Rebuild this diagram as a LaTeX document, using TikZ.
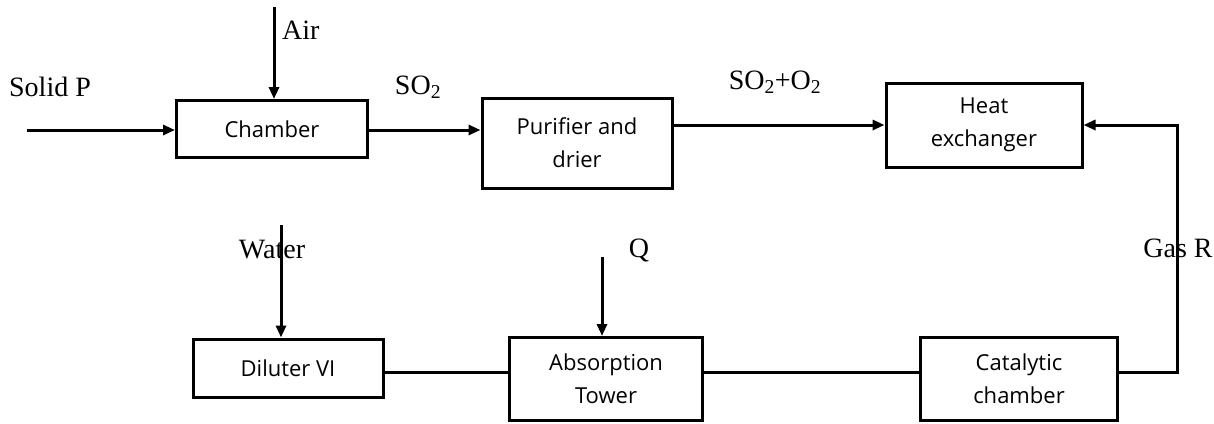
\documentclass[tikz,border=0pt]{standalone}
\usepackage{fontspec}
\setmainfont{Liberation Serif}
\newfontfamily\boxfont{Open Sans}
\usetikzlibrary{calc, arrows.meta}

\tikzset{
  unit/.style={draw, line width=3pt, inner sep=0pt, align=center,
    font=\boxfont\fontsize{22}{33}\selectfont},
  flow/.style={line width=3pt, -{Triangle[length=12pt,width=10pt]}},
  pipe/.style={line width=3pt},
  lbl/.style={inner sep=0pt, font=\fontsize{28}{32}\selectfont}
}

\begin{document}
\begin{tikzpicture}[x=1pt, y=-1pt]
\useasboundingbox (0,0) rectangle (1214,423);
\node [unit, minimum width=191pt, minimum height=57pt] (chamber) at (272,129) {Chamber};
\node [unit, minimum width=190pt, minimum height=90pt] (purifier) at (577,143) {Purifier and\\drier};
\node [unit, minimum width=196pt, minimum height=84pt] (heat) at (984,125) {Heat\\exchanger};
\node [unit, minimum width=190pt, minimum height=58pt] (diluter) at (288,368) {Diluter VI};
\node [unit, minimum width=193pt, minimum height=83pt] (absorb) at (606,379) {Absorption\\Tower};
\node [unit, minimum width=197pt, minimum height=83pt] (catalytic) at (1019,379) {Catalytic\\chamber};
\coordinate (airtop) at (274,7);
\coordinate (solidin) at (27,130);
\coordinate (watertop) at (281,225);
\coordinate (qtop) at (602,257);
\coordinate (gasturn) at (1177,372);
\draw [flow] (airtop) -- (airtop |- chamber.north);
\draw [flow] (solidin) -- (solidin -| chamber.west);
\draw [flow] (solidin -| chamber.east) -- (solidin -| purifier.west);
\draw [flow] (heat.west -| purifier.east) -- (heat.west);
\draw [flow] (watertop) -- (watertop |- diluter.north);
\draw [flow] (qtop) -- (qtop |- absorb.north);
\draw [pipe] (gasturn -| diluter.east) -- (gasturn -| absorb.west);
\draw [pipe] (gasturn -| absorb.east) -- (gasturn -| catalytic.west);
\draw [flow] (gasturn -| catalytic.east) -- (gasturn) |- (heat.east);
\node [lbl, right] at (282,30) {Air};
\node [lbl] at (50,87) {Solid P};
\node [lbl] at (418,87) {SO\textsubscript{2}};
\node [lbl] at (775,82) {SO\textsubscript{2}+O\textsubscript{2}};
\node [lbl] at (272,250) {Water};
\node [lbl] at (639,250) {Q};
\node [lbl] at (1178,248) {Gas R};
\end{tikzpicture}
\end{document}
